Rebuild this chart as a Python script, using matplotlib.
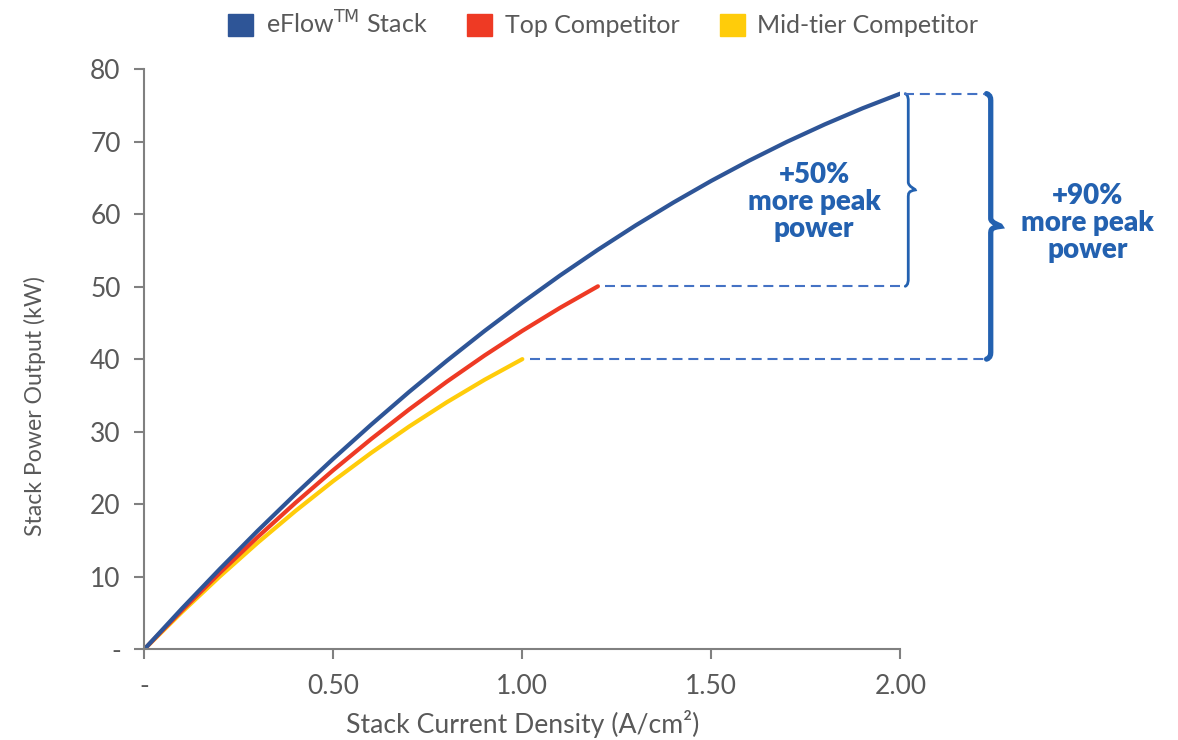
import matplotlib.pyplot as plt
from matplotlib.patches import Patch, PathPatch
from matplotlib.path import Path

# current density (A/cm2) and power output (kW)
eflow_x = [0.0, 0.1, 0.2, 0.3, 0.4, 0.5, 0.6, 0.7, 0.8, 0.9, 1.0,
           1.1, 1.2, 1.3, 1.4, 1.5, 1.6, 1.7, 1.8, 1.9, 2.0]
eflow_y = [0.0, 5.64, 11.08, 16.34, 21.4, 26.28, 30.96, 35.46, 39.76, 43.88, 47.8,
           51.54, 55.08, 58.44, 61.6, 64.58, 67.36, 69.96, 72.36, 74.58, 76.6]
top_x = [0.0, 0.1, 0.2, 0.3, 0.4, 0.5, 0.6, 0.7, 0.8, 0.9, 1.0, 1.1, 1.2]
top_y = [0.0, 5.38, 10.54, 15.48, 20.2, 24.7, 28.98, 33.04, 36.88, 40.5, 43.9,
         47.08, 50.04]
mid_x = [0.0, 0.1, 0.2, 0.3, 0.4, 0.5, 0.6, 0.7, 0.8, 0.9, 1.0]
mid_y = [0.0, 5.15, 10.05, 14.69, 19.07, 23.2, 27.07, 30.69, 34.05, 37.15, 40.0]

labels = ["eFlow$^{\\mathrm{TM}}$ Stack", "Top Competitor", "Mid-tier Competitor"]
x_ticks = [0, 0.5, 1.0, 1.5, 2.0]
x_tick_labels = ["-", "0.50", "1.00", "1.50", "2.00"]
y_ticks = [0, 10, 20, 30, 40, 50, 60, 70, 80]
y_tick_labels = ["-", "10", "20", "30", "40", "50", "60", "70", "80"]

BLUE = "#2E5597"
RED = "#EE3A24"
YELLOW = "#FFCC0A"
DASH = "#4472C4"
NOTE = "#2361B0"
GRAY = "#595959"

plt.rcParams["font.family"] = ["Lato", "DejaVu Sans"]

fig = plt.figure(figsize=(11.78, 7.4), dpi=100)
ax = fig.add_axes([0.1225, 0.1226, 0.6418, 0.7842])

ax.plot(mid_x, mid_y, color=YELLOW, lw=3, solid_capstyle="round")
ax.plot(top_x, top_y, color=RED, lw=3, solid_capstyle="round")
ax.plot(eflow_x, eflow_y, color=BLUE, lw=3, solid_capstyle="round")

ax.set_xlim(0, 2)
ax.set_ylim(0, 80)
ax.set_xticks(x_ticks)
ax.set_xticklabels(x_tick_labels)
ax.set_yticks(y_ticks)
ax.set_yticklabels(y_tick_labels)
for s in ["top", "right"]:
    ax.spines[s].set_visible(False)
for s in ["left", "bottom"]:
    ax.spines[s].set_color("#808080")
    ax.spines[s].set_linewidth(1.5)
ax.tick_params(axis="both", colors="#808080", length=7, width=1.5,
               labelcolor=GRAY, labelsize=19)
ax.tick_params(axis="x", pad=11)
ax.tick_params(axis="y", pad=10)
ax.set_xlabel("Stack Current Density (A/cm²)", color=GRAY, fontsize=19.2)
ax.set_ylabel("Stack Power Output (kW)", color=GRAY, fontsize=16.6)
ax.xaxis.set_label_coords(0.5, -0.104)
ax.yaxis.set_label_coords(-0.13, 0.419)

# dashed guide lines
peak = eflow_y[-1]
x_far = 2.225
ax.plot([top_x[-1] + 0.02, 2.0], [top_y[-1]] * 2, color=DASH, lw=1.5,
        dashes=(4.8, 2.8), clip_on=False)
ax.plot([mid_x[-1] + 0.02, x_far], [mid_y[-1]] * 2, color=DASH, lw=1.5,
        dashes=(4.8, 2.8), clip_on=False)
ax.plot([2.01, x_far], [peak] * 2, color=DASH, lw=1.5, dashes=(4.8, 2.8),
        clip_on=False)

# data units per pixel, to shape the braces
pos = ax.get_position()
px_x = 2.0 / (pos.width * 1178)
px_y = 80.0 / (pos.height * 740)


def brace(x0, yt, yb, w, lw):
    ym = (yt + yb) / 2
    s = 0.3 * w * px_x
    tip = w * px_x
    d = 8 * px_y
    verts = [
        (x0, yt),
        (x0 + s, yt - 0.2 * d), (x0 + s, yt - 0.6 * d), (x0 + s, yt - d),
        (x0 + s, ym + d),
        (x0 + s, ym + 0.4 * d), (x0 + tip, ym + 0.15 * d), (x0 + tip, ym),
        (x0 + s, ym - 0.15 * d), (x0 + s, ym - 0.4 * d), (x0 + s, ym - d),
        (x0 + s, yb + d),
        (x0 + s, yb + 0.6 * d), (x0 + s, yb + 0.2 * d), (x0, yb),
    ]
    codes = [Path.MOVETO,
             Path.CURVE4, Path.CURVE4, Path.CURVE4,
             Path.LINETO,
             Path.CURVE4, Path.CURVE4, Path.CURVE4,
             Path.CURVE4, Path.CURVE4, Path.CURVE4,
             Path.LINETO,
             Path.CURVE4, Path.CURVE4, Path.CURVE4]
    ax.add_patch(PathPatch(Path(verts, codes), fill=False, edgecolor=NOTE,
                           lw=lw, clip_on=False, capstyle="round"))


brace(2.013, peak, top_y[-1], 10, 2.0)
brace(2.228, peak, mid_y[-1], 14, 3.8)

ax.text(1.772, 61.6, "+50%\nmore peak\npower", color=NOTE, fontsize=20,
        fontweight="heavy", ha="center", va="center", linespacing=1.05)
ax.text(2.496, 58.8, "+90%\nmore peak\npower", color=NOTE, fontsize=20,
        fontweight="heavy", ha="center", va="center", linespacing=1.05,
        clip_on=False)

handles = [Patch(color=BLUE), Patch(color=RED), Patch(color=YELLOW)]
fig.legend(handles, labels, loc="center", bbox_to_anchor=(0.512, 0.968), ncol=3,
           frameon=False, fontsize=18, labelcolor=GRAY, handlelength=1.0,
           handleheight=1.0, handletextpad=0.5, columnspacing=1.6)

fig.savefig("out.png", dpi=100)
